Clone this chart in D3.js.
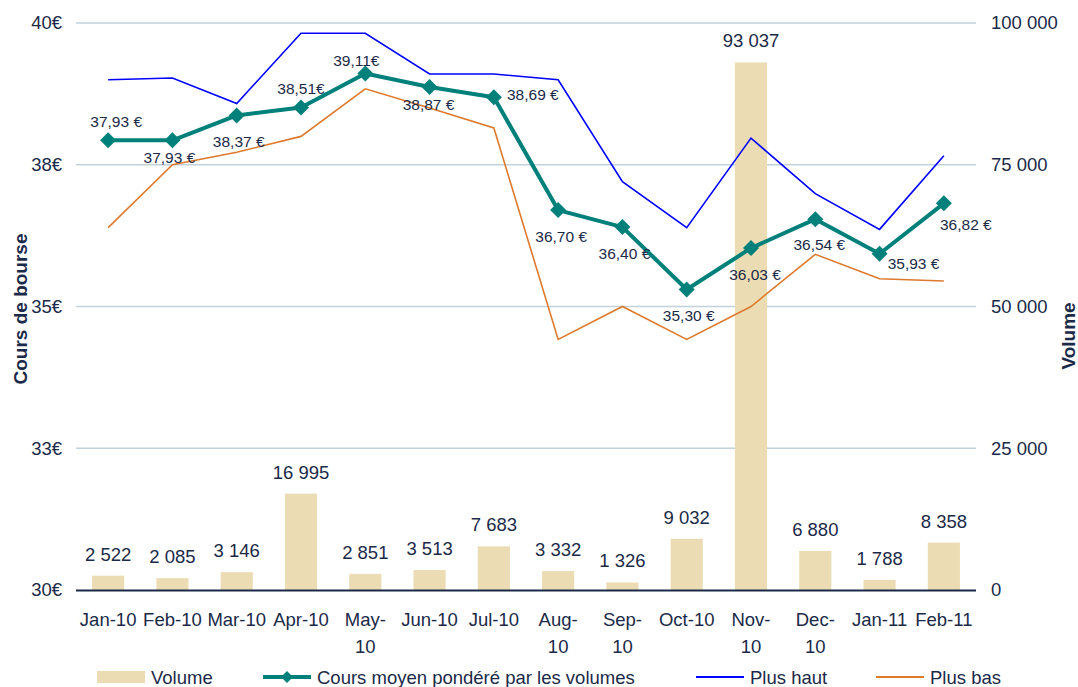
<!DOCTYPE html>
<html>
<head>
<meta charset="utf-8">
<script src="https://cdn.jsdelivr.net/npm/d3@7/dist/d3.min.js"></script>
<style>
  html, body { margin: 0; padding: 0; background: #ffffff; }
  svg { display: block; font-family: "Liberation Sans", Arial, sans-serif; }
</style>
</head>
<body>
<svg id="chart" width="1078" height="687"></svg>
<script>
// ---------- data ----------
const months = ["Jan-10","Feb-10","Mar-10","Apr-10","May-10","Jun-10","Jul-10","Aug-10","Sep-10","Oct-10","Nov-10","Dec-10","Jan-11","Feb-11"];
const wrappedMonths = ["May-10","Aug-10","Sep-10","Nov-10","Dec-10"];
const volume = [2522, 2085, 3146, 16995, 2851, 3513, 7683, 3332, 1326, 9032, 93037, 6880, 1788, 8358];
const vwap   = [37.93, 37.93, 38.37, 38.51, 39.11, 38.87, 38.69, 36.70, 36.40, 35.30, 36.03, 36.54, 35.93, 36.82];
const high   = [39.00, 39.03, 38.58, 39.82, 39.82, 39.10, 39.10, 39.00, 37.20, 36.39, 37.97, 36.99, 36.36, 37.66];
const low    = [36.39, 37.50, 37.72, 38.00, 38.84, 38.50, 38.15, 34.42, 35.00, 34.42, 35.00, 35.92, 35.49, 35.45];
const priceTicks  = [30, 32.5, 35, 37.5, 40];
const volumeTicks = [0, 25000, 50000, 75000, 100000];
const tightEuro = ["Apr-10", "May-10"]; // labels written without space before €
const seriesNames = ["Volume", "Cours moyen pondéré par les volumes", "Plus haut", "Plus bas"];

// label placement (styling, pixels relative to marker)
const priceLabelDx = [8, -3, 2, 0, -9, -1, 39, 3, 2, 2, 4, 4, 34, 22];
const priceLabelDy = [-19, 17, 26, -19, -13, 17, -3, 26, 26, 26, 26, 25.5, 10, 21.5];

// ---------- styles ----------
const C = {
  text: "#1b2a48",
  axis: "#1b2a48",
  grid: "#c3d2da",
  bar: "#ecdcb3",
  vwap: "#00807a",
  high: "#0000ff",
  low: "#dd7a2e"
};

const fr = d3.formatLocale({decimal: ",", thousands: " ", grouping: [3], currency: ["", "€"]});
const fmtInt = fr.format(",.0f");
const fmtPrice = fr.format(".2f");
const fmtTick = fr.format(".0f");

const svg = d3.select("#chart");
const L = 76, R = 976, T = 23, B = 590;

const x = d3.scaleBand().domain(months).range([L, R]).paddingInner(0.5).paddingOuter(0.25);
const cx = m => x(m) + x.bandwidth() / 2;
const yL = d3.scaleLinear().domain([30, 40]).range([B, T]);
const yR = d3.scaleLinear().domain([0, 100000]).range([B, T]);

// gridlines
svg.append("g")
  .selectAll("line")
  .data(priceTicks.filter(d => d !== 30))
  .join("line")
  .attr("x1", L).attr("x2", R)
  .attr("y1", d => yL(d)).attr("y2", d => yL(d))
  .attr("stroke", C.grid).attr("stroke-width", 1.5);

// bars
svg.append("g")
  .selectAll("rect")
  .data(months)
  .join("rect")
  .attr("x", m => x(m))
  .attr("width", x.bandwidth())
  .attr("y", (m, i) => yR(volume[i]))
  .attr("height", (m, i) => B - yR(volume[i]))
  .attr("fill", C.bar);

// left axis
const gL = svg.append("g").attr("transform", `translate(${L},0)`)
  .call(d3.axisLeft(yL).tickValues(priceTicks).tickSize(0).tickPadding(14).tickFormat(d => fmtTick(d) + "€"));
gL.select(".domain").remove();
gL.selectAll("text").attr("font-size", 18.5).attr("fill", C.text).attr("font-family", "Liberation Sans, Arial, sans-serif");

// right axis
const gR = svg.append("g").attr("transform", `translate(${R},0)`)
  .call(d3.axisRight(yR).tickValues(volumeTicks).tickSize(0).tickPadding(15).tickFormat(d => fmtInt(d)));
gR.select(".domain").remove();
gR.selectAll("text").attr("font-size", 18.5).attr("fill", C.text).attr("font-family", "Liberation Sans, Arial, sans-serif");

// bottom axis
const gB = svg.append("g").attr("transform", `translate(0,${B})`)
  .call(d3.axisBottom(x).tickSize(0).tickPadding(0));
gB.select(".domain").remove();
gB.selectAll(".tick text").remove();
gB.selectAll(".tick").each(function(m) {
  const t = d3.select(this).append("text")
    .attr("text-anchor", "middle")
    .attr("font-size", 18.5)
    .attr("fill", C.text)
    .attr("font-family", "Liberation Sans, Arial, sans-serif");
  const lines = wrappedMonths.includes(m) ? [m.split("-")[0] + "-", m.split("-")[1]] : [m];
  lines.forEach((ln, k) => {
    t.append("tspan").attr("x", 0).attr("y", 36 + k * 26.5).text(ln);
  });
});

// baseline axis line
svg.append("line")
  .attr("x1", L).attr("x2", R).attr("y1", B + 0.5).attr("y2", B + 0.5)
  .attr("stroke", C.axis).attr("stroke-width", 2);

// volume labels
svg.append("g")
  .selectAll("text")
  .data(months)
  .join("text")
  .attr("x", m => cx(m))
  .attr("y", (m, i) => yR(volume[i]) - 15)
  .attr("text-anchor", "middle")
  .attr("font-size", 18.5)
  .attr("fill", C.text)
  .text((m, i) => fmtInt(volume[i]));

// lines
const lineGen = arr => d3.line().x((m) => cx(m)).y((m, i) => yL(arr[i]))(months);

svg.append("path").attr("d", lineGen(vwap))
  .attr("fill", "none").attr("stroke", C.vwap).attr("stroke-width", 4).attr("stroke-linejoin", "round");
svg.append("path").attr("d", lineGen(high))
  .attr("fill", "none").attr("stroke", C.high).attr("stroke-width", 1.6);
svg.append("path").attr("d", lineGen(low))
  .attr("fill", "none").attr("stroke", C.low).attr("stroke-width", 1.6);

// markers
const diamond = r => `M0,${-r}L${r},0L0,${r}L${-r},0Z`;
svg.append("g")
  .selectAll("path")
  .data(months)
  .join("path")
  .attr("transform", (m, i) => `translate(${cx(m)},${yL(vwap[i])})`)
  .attr("d", diamond(8))
  .attr("fill", C.vwap);

// price labels
svg.append("g")
  .selectAll("text")
  .data(months)
  .join("text")
  .attr("x", (m, i) => cx(m) + priceLabelDx[i])
  .attr("y", (m, i) => yL(vwap[i]) + priceLabelDy[i])
  .attr("dy", "0.36em")
  .attr("text-anchor", "middle")
  .attr("font-size", 15.5)
  .attr("fill", C.text)
  .text((m, i) => fmtPrice(vwap[i]) + (tightEuro.includes(m) ? "€" : " €"));

// axis titles
svg.append("text")
  .attr("transform", "translate(27,309) rotate(-90)")
  .attr("text-anchor", "middle")
  .attr("font-size", 19).attr("font-weight", "bold").attr("fill", C.text)
  .text("Cours de bourse");
svg.append("text")
  .attr("transform", "translate(1075,336) rotate(-90)")
  .attr("text-anchor", "middle")
  .attr("font-size", 19).attr("font-weight", "bold").attr("fill", C.text)
  .text("Volume");

// legend
const legendX = [97, 263, 696, 876];
const lg = svg.append("g");
seriesNames.forEach((name, i) => {
  const g = lg.append("g").attr("transform", `translate(${legendX[i]},677)`);
  if (i === 0) {
    g.append("rect").attr("x", 0).attr("y", -6).attr("width", 48).attr("height", 12).attr("fill", C.bar);
  } else {
    const col = [null, C.vwap, C.high, C.low][i];
    g.append("line").attr("x1", 0).attr("x2", 48).attr("y1", 0).attr("y2", 0)
      .attr("stroke", col).attr("stroke-width", i === 1 ? 4 : 2);
    if (i === 1) g.append("path").attr("transform", "translate(24,0)").attr("d", diamond(6)).attr("fill", C.vwap);
  }
  g.append("text").attr("x", 54).attr("y", 0).attr("dy", "0.36em")
    .attr("font-size", 18.5).attr("fill", C.text).text(name);
});
</script>
</body>
</html>
